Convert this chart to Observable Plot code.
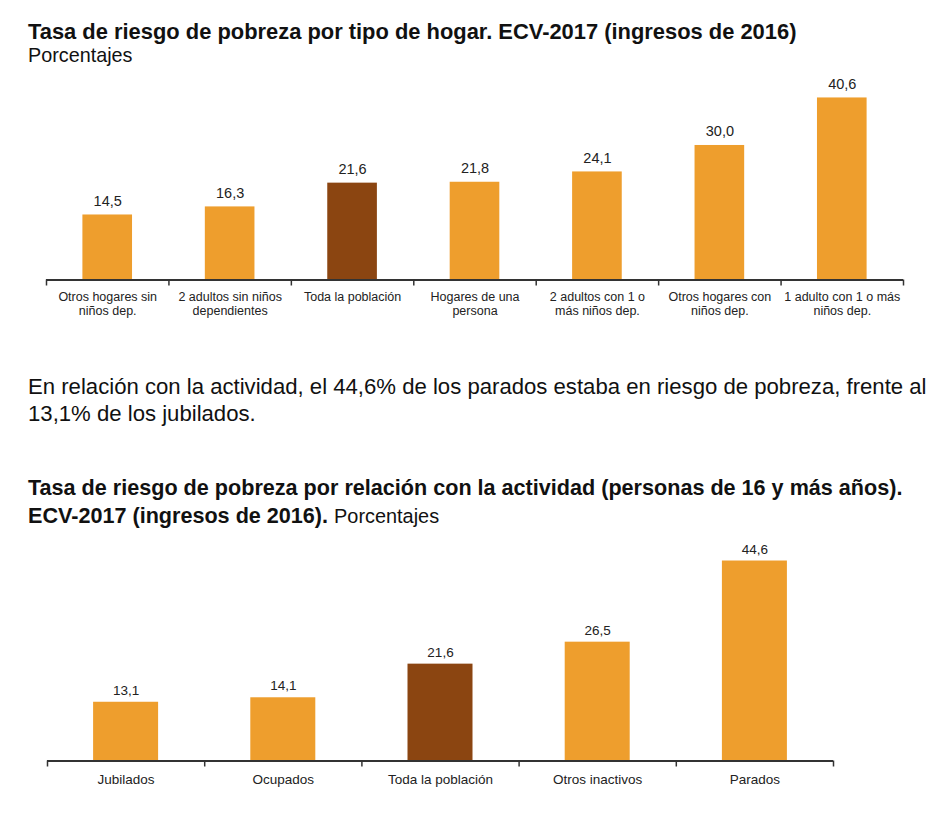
<!DOCTYPE html>
<html>
<head>
<meta charset="utf-8">
<script src="https://cdn.jsdelivr.net/npm/d3@7"></script>
<script src="https://cdn.jsdelivr.net/npm/@observablehq/plot@0.6"></script>
<style>
  html, body { margin: 0; padding: 0; background: #fff; }
  body { width: 950px; height: 817px; position: relative; overflow: hidden;
         font-family: "Liberation Sans", Arial, sans-serif; color: #111; }
  .t { position: absolute; left: 28px; white-space: nowrap; z-index: 2; }
  .bold { font-weight: bold; }
  .chart { position: absolute; left: 0; z-index: 1; }
</style>
</head>
<body>
<div class="t bold" id="title1" style="top:21px;font-size:21.9px;line-height:21.9px;">Tasa de riesgo de pobreza por tipo de hogar. ECV-2017 (ingresos de 2016)</div>
<div class="t" id="sub1" style="top:46.2px;font-size:19.8px;line-height:19.8px;">Porcentajes</div>
<div class="t" id="para" style="top:374.3px;font-size:22.15px;line-height:26.7px;">En relación con la actividad, el 44,6% de los parados estaba en riesgo de pobreza, frente al<br>13,1% de los jubilados.</div>
<div class="t" id="title2" style="top:473.5px;font-size:21.6px;line-height:28px;"><span class="bold">Tasa de riesgo de pobreza por relación con la actividad (personas de 16 y más años).<br>ECV-2017 (ingresos de 2016).</span> <span style="font-size:19.9px">Porcentajes</span></div>
<div class="chart" id="chart1" style="top:64px;"></div>
<div class="chart" id="chart2" style="top:532px;"></div>
<script>
// ---- Data: chart 1 (tipo de hogar) ----
const hogarCategories = [
  "Otros hogares sin niños dep.",
  "2 adultos sin niños dependientes",
  "Toda la población",
  "Hogares de una persona",
  "2 adultos con 1 o más niños dep.",
  "Otros hogares con niños dep.",
  "1 adulto con 1 o más niños dep."
];
const hogarTickLabels = [
  "Otros hogares sin\nniños dep.",
  "2 adultos sin niños\ndependientes",
  "Toda la población",
  "Hogares de una\npersona",
  "2 adultos con 1 o\nmás niños dep.",
  "Otros hogares con\nniños dep.",
  "1 adulto con 1 o más\nniños dep."
];
const hogarValues = [14.5, 16.3, 21.6, 21.8, 24.1, 30.0, 40.6];

// ---- Data: chart 2 (relación con la actividad) ----
const actividadCategories = ["Jubilados", "Ocupados", "Toda la población", "Otros inactivos", "Parados"];
const actividadTickLabels = ["Jubilados", "Ocupados", "Toda la población", "Otros inactivos", "Parados"];
const actividadValues = [13.1, 14.1, 21.6, 26.5, 44.6];

const highlightCategory = "Toda la población";

// ---- Styles ----
const ORANGE = "#EE9E2D";
const BROWN = "#8B4511";
const AXIS = "#333333";
const fmt = v => d3.format(".1f")(v).replace(".", ",");

function barChart({categories, tickLabels, values, width, marginLeft, marginRight,
                   marginTop, marginBottom, inset, valueFont, valueGap, tickFont,
                   tickLineHeight, tickPadding, yMax, plotHeight}) {
  const n = categories.length;
  const data = categories.map((c, i) => ({i, c, v: values[i], label: tickLabels[i]}));
  return Plot.plot({
    width,
    height: marginTop + plotHeight + marginBottom,
    marginLeft, marginRight, marginTop, marginBottom,
    style: {fontFamily: "'Liberation Sans', Arial, sans-serif", color: "#222", background: "transparent", overflow: "visible"},
    x: {type: "linear", domain: [0, n], label: null},
    y: {domain: [0, yMax], axis: null},
    marks: [
      Plot.rect(data, {
        x1: d => d.i, x2: d => d.i + 1, y1: 0, y2: d => d.v,
        insetLeft: inset, insetRight: inset,
        fill: d => d.c === highlightCategory ? BROWN : ORANGE
      }),
      Plot.text(data, {
        x: d => d.i + 0.5, y: d => d.v, text: d => fmt(d.v),
        dy: -valueGap, lineAnchor: "bottom", fontSize: valueFont, fill: "#222"
      }),
      Plot.ruleY([0], {stroke: AXIS, strokeWidth: 2}),
      Plot.axisX({
        ticks: d3.range(n + 1), tickSize: 6, tickFormat: () => "",
        stroke: AXIS, strokeWidth: 1.5, label: null
      }),
      Plot.axisX({
        ticks: d3.range(n).map(i => i + 0.5), tickSize: 0, tickPadding,
        tickFormat: v => data[Math.floor(v)].label,
        fontSize: tickFont, lineHeight: tickLineHeight, fill: "#222", label: null
      })
    ]
  });
}

const PX_PER_UNIT = 4.484;
const Y_MAX = 45;

document.getElementById("chart1").append(barChart({
  categories: hogarCategories, tickLabels: hogarTickLabels, values: hogarValues,
  width: 950, marginLeft: 46, marginRight: 47,
  marginTop: 279.5 - 64 - Y_MAX * PX_PER_UNIT, marginBottom: 45,
  inset: 36.4, valueFont: 14.5, valueGap: 9, tickFont: 12.5, tickLineHeight: 1.17,
  tickPadding: 10.3, yMax: Y_MAX, plotHeight: Y_MAX * PX_PER_UNIT
}));

document.getElementById("chart2").append(barChart({
  categories: actividadCategories, tickLabels: actividadTickLabels, values: actividadValues,
  width: 950, marginLeft: 47, marginRight: 117,
  marginTop: 760.5 - 532 - Y_MAX * PX_PER_UNIT, marginBottom: 40,
  inset: 46.1, valueFont: 13.5, valueGap: 7.5, tickFont: 13.5, tickLineHeight: 1.17,
  tickPadding: 11.6, yMax: Y_MAX, plotHeight: Y_MAX * PX_PER_UNIT
}));
</script>
</body>
</html>
